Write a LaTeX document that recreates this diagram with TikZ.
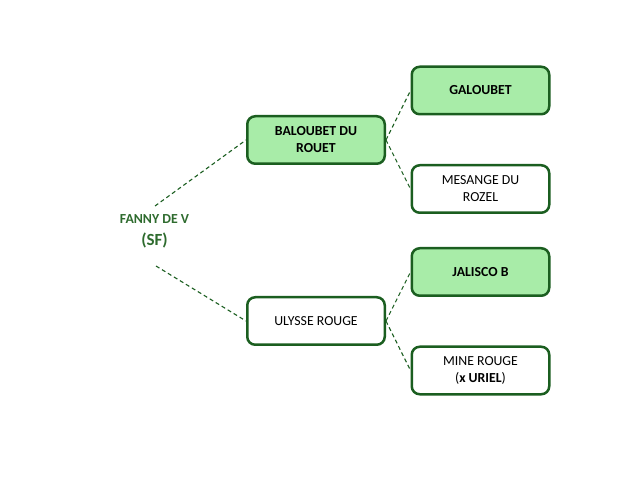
\documentclass[tikz,border=0pt]{standalone}
\usepackage{fontspec}
\setmainfont{Carlito}
\usepackage{tikz}
\definecolor{darkgreen}{HTML}{1B5E20}
\definecolor{textgreen}{HTML}{2E6B2E}
\definecolor{lightgreen}{HTML}{A8ECA8}
\tikzset{
  horse/.style={draw=darkgreen, line width=2.5pt, rounded corners=8pt, fill=white,
    minimum width=137.5pt, minimum height=47.5pt, align=center,
    font=\fontsize{13.8}{17}\selectfont},
  parent/.style={horse, fill=lightgreen, font=\fontsize{13.8}{17}\selectfont\bfseries},
  link/.style={darkgreen, dashed, line width=1.1pt, dash pattern=on 4pt off 3pt},
}
\begin{document}
\begin{tikzpicture}[x=1pt,y=-1pt]
    % Page
    \useasboundingbox (0,0) rectangle (640,494);
    % Horse herself
    \node[text=textgreen, font=\bfseries\fontsize{13.8}{16}\selectfont] (fanny) at (154.5,219) {FANNY DE V};
    \node[text=textgreen, font=\bfseries\fontsize{17}{20}\selectfont] (fannystud) at (154.5,240) {(SF)};
    \coordinate (fannyup) at (155,206);
    \coordinate (fannydown) at (156,266);
    % Sire and dam
    \node[parent] (sire) at (316,140) {BALOUBET DU\\ROUET};
    \node[horse] (dam) at (316,321) {ULYSSE ROUGE};
    % Grandparents
    \node[parent] (siresire) at (480.5,90.5) {GALOUBET};
    \node[horse] (siredam) at (480.5,189) {MESANGE DU\\ROZEL};
    \node[parent] (damsire) at (480.5,272) {JALISCO B};
    \node[horse] (damdam) at (480.5,370.5) {MINE ROUGE\\(\textbf{x URIEL})};
    % Links
    \draw[link] (fannyup) -- (sire.west);
    \draw[link] (fannydown) -- (dam.west);
    \draw[link] (sire.east) -- (siresire.west);
    \draw[link] (sire.east) -- (siredam.west);
    \draw[link] (dam.east) -- (damsire.west);
    \draw[link] (dam.east) -- (damdam.west);
\end{tikzpicture}
\end{document}
